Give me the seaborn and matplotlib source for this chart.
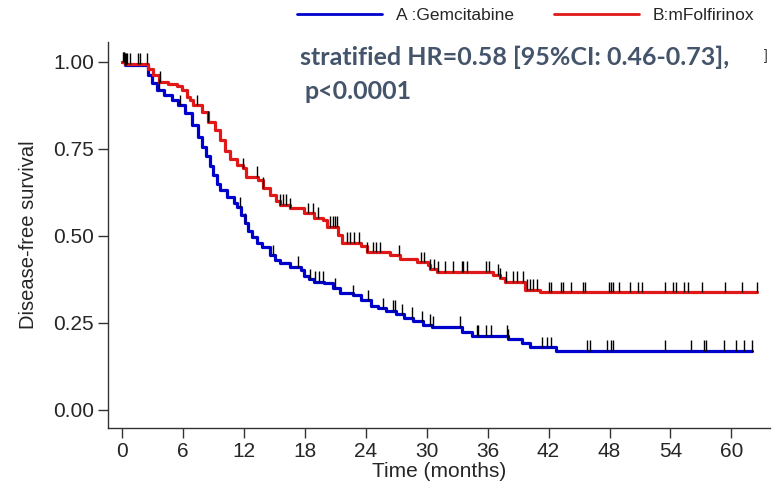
import numpy as np
import pandas as pd
import matplotlib
matplotlib.use("Agg")
import matplotlib.pyplot as plt
import seaborn as sns

# Kaplan-Meier steps (time in months, survival after step)
gem_time = [0, 0.3, 2.6, 3.0, 3.5, 4.2, 4.9, 5.5, 6.2, 6.9, 7.5, 7.9, 8.3, 8.7, 9.0,
            9.4, 9.7, 10.4, 11.0, 11.3, 11.7, 12.1, 12.4, 12.8, 13.3, 13.8, 14.6,
            15.1, 15.6, 16.6, 17.6, 17.9, 18.4, 18.9, 19.9, 20.8, 21.5, 22.8, 23.5,
            24.5, 25.2, 26.0, 27.0, 27.8, 28.7, 29.6, 30.5, 33.5, 34.5, 38.0, 39.4,
            40.2, 42.7, 62.0]
gem_surv = [1.0, 0.99, 0.963, 0.94, 0.92, 0.905, 0.89, 0.876, 0.853, 0.82, 0.785,
            0.757, 0.73, 0.70, 0.675, 0.65, 0.632, 0.612, 0.595, 0.583, 0.56, 0.537,
            0.515, 0.497, 0.48, 0.468, 0.445, 0.432, 0.422, 0.411, 0.402, 0.385,
            0.375, 0.368, 0.364, 0.35, 0.336, 0.33, 0.316, 0.30, 0.293, 0.285,
            0.275, 0.265, 0.255, 0.245, 0.239, 0.224, 0.213, 0.204, 0.193, 0.181,
            0.17, 0.17]

folf_time = [0, 0.3, 2.6, 3.1, 3.7, 4.5, 5.4, 5.9, 6.4, 6.7, 7.0, 7.9, 8.5, 9.2, 9.7,
             10.2, 10.6, 11.3, 11.9, 12.2, 13.4, 13.9, 14.6, 15.2, 15.6, 16.6, 17.9,
             18.9, 19.8, 20.2, 21.3, 21.7, 23.5, 24.1, 26.4, 27.4, 29.1, 30.1, 30.3,
             31.0, 36.5, 37.2, 37.7, 39.7, 41.2, 62.5]
folf_surv = [1.0, 0.995, 0.98, 0.963, 0.943, 0.938, 0.932, 0.92, 0.90, 0.89, 0.876,
             0.856, 0.828, 0.805, 0.776, 0.745, 0.72, 0.705, 0.695, 0.67, 0.66, 0.638,
             0.618, 0.60, 0.59, 0.58, 0.566, 0.552, 0.546, 0.526, 0.503, 0.48, 0.47,
             0.454, 0.445, 0.434, 0.425, 0.417, 0.405, 0.397, 0.388, 0.379, 0.368,
             0.345, 0.339, 0.339]

# censoring times (months)
gem_cens = [0.2, 0.3, 0.4, 3.7, 5.7, 11.6, 12.1, 14.9, 17.3, 18.5, 19.0, 19.4, 19.8,
            21.0, 22.8, 24.2, 25.7, 26.7, 26.9, 27.6, 28.6, 29.5, 30.3, 30.6, 33.3,
            35.0, 35.1, 35.8, 36.3, 37.9, 38.0, 41.4, 41.8, 42.2, 45.8, 46.1, 47.8,
            48.1, 48.3, 53.5, 56.0, 57.3, 57.5, 59.3, 60.4, 61.2, 62.0]
folf_cens = [0.1, 0.2, 0.3, 0.4, 0.5, 0.8, 1.6, 1.8, 2.5, 3.8, 7.4, 8.5, 11.9, 13.3,
             13.9, 15.6, 15.9, 16.2, 16.6, 18.3, 18.8, 19.3, 20.5, 20.8, 21.0, 21.2,
             22.2, 22.5, 22.9, 23.3, 24.1, 24.7, 25.0, 25.4, 27.3, 29.4, 29.7, 30.3,
             30.7, 31.1, 31.8, 32.6, 33.5, 33.6, 34.0, 35.8, 36.1, 37.0, 37.2, 37.8,
             38.5, 38.9, 39.5, 39.9, 40.2, 40.5, 40.9, 42.0, 42.2, 43.2, 43.4, 44.2,
             45.4, 45.6, 47.9, 48.1, 48.3, 48.9, 50.0, 50.8, 51.2, 53.5, 54.2, 54.5,
             55.3, 55.7, 57.1, 59.4, 61.0, 62.5]

groups = ["A :Gemcitabine", "B:mFolfirinox"]
colors = ["#0000cc", "#e01818"]

curves = pd.concat([
    pd.DataFrame({"time": gem_time, "surv": gem_surv, "arm": groups[0]}),
    pd.DataFrame({"time": folf_time, "surv": folf_surv, "arm": groups[1]}),
])


def surv_at(times, steps_t, steps_s):
    idx = np.searchsorted(steps_t, times, side="right") - 1
    return np.array(steps_s)[idx]


sns.set_style("ticks")
plt.rcParams["font.family"] = ["Liberation Sans", "DejaVu Sans"]

fig = plt.figure(figsize=(7.81, 4.90), dpi=100)
ax = fig.add_axes([0.138, 0.1265, 0.848, 0.7875])

sns.lineplot(data=curves, x="time", y="surv", hue="arm", palette=colors,
             drawstyle="steps-post", estimator=None, sort=False, lw=2.3,
             ax=ax, legend=False)

for cens, st, ss in [(gem_cens, gem_time, gem_surv), (folf_cens, folf_time, folf_surv)]:
    s = surv_at(cens, st, ss)
    ax.vlines(cens, s, s + 0.03, color="black", lw=1.0, zorder=3)

ax.set_xlim(-1.38, 63.8)
ax.set_ylim(-0.052, 1.057)
ax.set_xticks(np.arange(0, 61, 6))
ax.set_yticks([0, 0.25, 0.5, 0.75, 1.0])
ax.set_yticklabels(["0.00", "0.25", "0.50", "0.75", "1.00"])
ax.tick_params(labelsize=15, length=7, width=1, color="#333333", pad=3)
ax.set_xlabel("Time (months)", fontsize=15, labelpad=1)
ax.set_ylabel("Disease-free survival", fontsize=14.5, labelpad=11)
for sp in ["left", "bottom"]:
    ax.spines[sp].set_color("#333333")
    ax.spines[sp].set_linewidth(1)
sns.despine(ax=ax)

# legend above the plot
handles = [plt.Line2D([], [], color=c, lw=2) for c in colors]
fig.legend(handles, groups, loc="upper left", bbox_to_anchor=(0.36, 1.015), ncol=2,
           frameon=False, handlelength=4.9, handletextpad=0.8, columnspacing=2.3,
           fontsize=12.5)

txt_color = "#44546A"
ax.text(0.29, 0.961, "stratified HR=0.58 [95%CI: 0.46-0.73],", transform=ax.transAxes,
        fontsize=18, fontweight="bold", color=txt_color, family="Lato", va="center")
ax.text(0.297, 0.872, "p<0.0001", transform=ax.transAxes,
        fontsize=18, fontweight="bold", color=txt_color, family="Lato", va="center")
fig.text(0.978, 0.885, "]", fontsize=10, color="#333333", va="center")

fig.savefig("out.png", dpi=100)
